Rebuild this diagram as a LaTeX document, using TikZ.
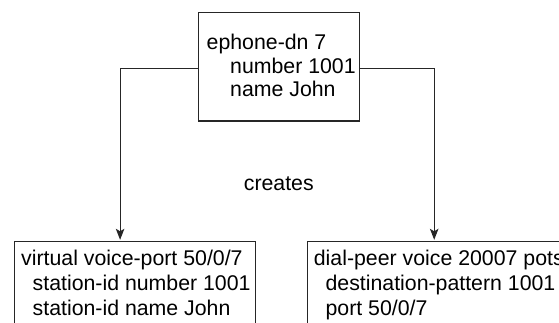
\documentclass[tikz,border=0pt]{standalone}
\usepackage{fontspec}
\setmainfont{Liberation Sans}
\usetikzlibrary{arrows.meta}
\begin{document}
\begin{tikzpicture}[x=1pt,y=-1pt,
  box/.style={draw=black!85,line width=1.1pt,rectangle,inner sep=0pt},
  txt/.style={anchor=base west,inner sep=0pt,font=\fontsize{21.3}{25}\selectfont},
  conn/.style={draw=black!85,line width=1.1pt,-{Stealth[length=11pt,width=8.5pt,inset=2.5pt]},shorten >=1.5pt}]
\useasboundingbox (0,0) rectangle (559,323);
\clip (0,0) rectangle (559,323);
\node[box, minimum width=160.8pt, minimum height=108.5pt] (top) at (279,66.8) {};
\node[box, anchor=north west, minimum width=241.4pt, minimum height=120pt] (lbox) at (13.5,241.3) {};
\node[box, anchor=north west, minimum width=300pt, minimum height=120pt] (rbox) at (307,241.3) {};
\node[txt] (t1) at (206.5,50) {ephone-dn 7};
\node[txt] (t2) at (230,73.5) {number 1001};
\node[txt] (t3) at (230,97) {name John};
\node[txt] (l1) at (21,265) {virtual voice-port 50/0/7};
\node[txt] (l2) at (32.5,290) {station-id number 1001};
\node[txt] (l3) at (32.5,315) {station-id name John};
\node[txt] (r1) at (313.7,265) {dial-peer voice 20007 pots};
\node[txt] (r2) at (325.4,290) {destination-pattern 1001};
\node[txt] (r3) at (325.4,315) {port 50/0/7};
\node[font=\fontsize{21.3}{25}\selectfont, anchor=base, inner sep=0pt] (cr) at (278.8,190.7) {creates};
\coordinate (lx) at (120.1,0);
\coordinate (rx) at (434.2,0);
\draw[conn] ([yshift=-2pt]top.west) -| (lx |- lbox.north);
\draw[conn] ([yshift=-2pt]top.east) -| (rx |- rbox.north);
\end{tikzpicture}
\end{document}
